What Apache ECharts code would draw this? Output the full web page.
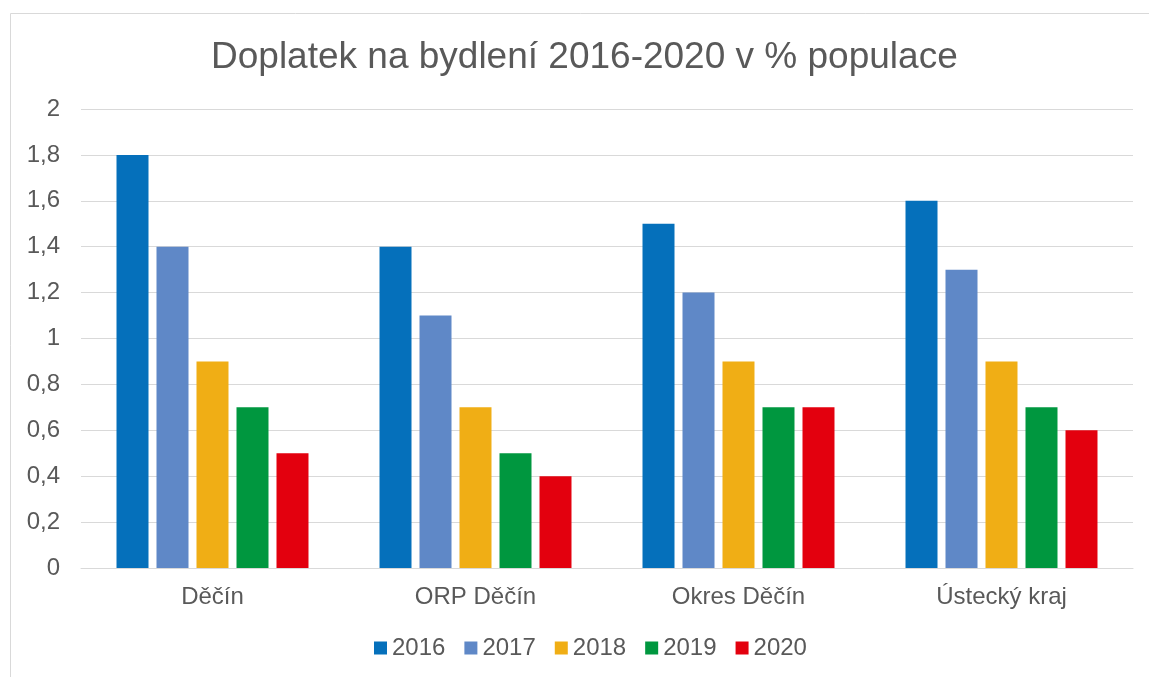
<!DOCTYPE html>
<html>
<head>
<meta charset="utf-8">
<script src="https://cdn.jsdelivr.net/npm/echarts@6/dist/echarts.min.js"></script>
<style>html,body{margin:0;padding:0;background:#fff}#c{width:1149px;height:677px}</style>
</head>
<body>
<div id="c"></div>
<script>
var categories = ['Děčín', 'ORP Děčín', 'Okres Děčín', 'Ústecký kraj'];
var seriesNames = ['2016', '2017', '2018', '2019', '2020'];
var v2016 = [1.8, 1.4, 1.5, 1.6];
var v2017 = [1.4, 1.1, 1.2, 1.3];
var v2018 = [0.9, 0.7, 0.9, 0.9];
var v2019 = [0.7, 0.5, 0.7, 0.7];
var v2020 = [0.5, 0.4, 0.7, 0.6];
var colors = ['#0570BB', '#5F88C7', '#F0AE15', '#00973F', '#E3000E'];
var values = [v2016, v2017, v2018, v2019, v2020];

var chart = echarts.init(document.getElementById('c'));
var font = '"Liberation Sans", Arial, sans-serif';
chart.setOption({
  animation: false,
  color: colors,
  graphic: [{
    type: 'rect', silent: true,
    shape: {x: 10.5, y: 13.5, width: 1170, height: 700},
    style: {fill: 'none', stroke: '#d9d9d9', lineWidth: 1}
  }],
  title: {
    text: 'Doplatek na bydlení 2016-2020 v % populace',
    left: 206, top: 34,
    textStyle: {fontFamily: font, fontSize: 37, fontWeight: 'normal', color: '#595959'}
  },
  legend: {
    left: 369, top: 631,
    itemWidth: 13, itemHeight: 13, itemGap: 19,
    icon: 'rect',
    textStyle: {fontFamily: font, fontSize: 24, color: '#595959'}
  },
  grid: {left: 81, right: 16, top: 109, bottom: 109},
  xAxis: {
    type: 'category', data: categories,
    axisLine: {lineStyle: {color: '#d9d9d9'}},
    axisTick: {show: false},
    axisLabel: {fontFamily: font, fontSize: 24, color: '#595959', margin: 17}
  },
  yAxis: {
    type: 'value', min: 0, max: 2, interval: 0.2,
    axisLine: {show: false}, axisTick: {show: false},
    splitLine: {lineStyle: {color: '#d9d9d9'}},
    axisLabel: {
      fontFamily: font, fontSize: 24, color: '#595959', margin: 21,
      formatter: function (v) { return String(+v.toFixed(1)).replace('.', ','); }
    }
  },
  series: seriesNames.map(function (n, i) {
    return {
      name: n, type: 'bar', data: values[i],
      barGap: '25%', barCategoryGap: '27%'
    };
  })
});
</script>
</body>
</html>
